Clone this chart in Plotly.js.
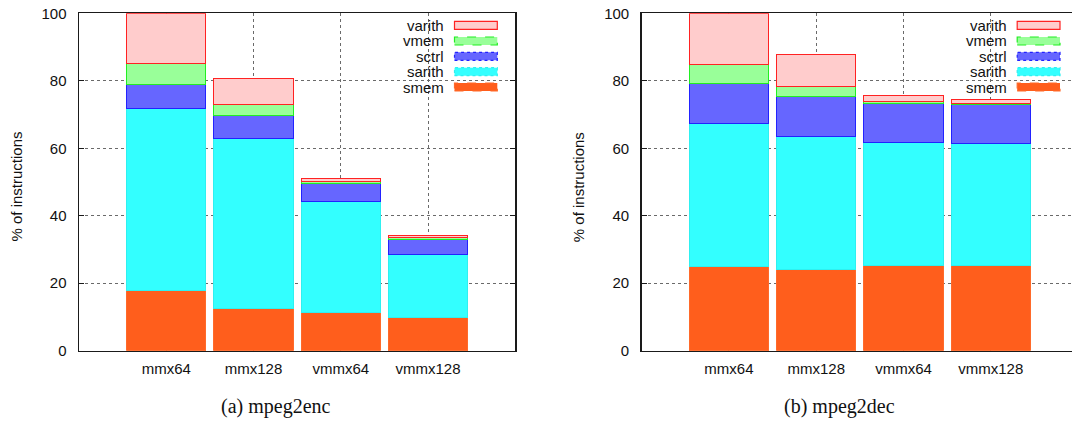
<!DOCTYPE html>
<html>
<head>
<meta charset="utf-8">
<script src="https://cdn.plot.ly/plotly-3.0.1.min.js"></script>
<style>
html, body { margin: 0; padding: 0; overflow: hidden; background: #fff; }
#chart { width: 1090px; height: 421px; }
</style>
</head>
<body>
<div id="chart"></div>
<script>
// ---- data ----
const categories = ['mmx64', 'mmx128', 'vmmx64', 'vmmx128'];
const seriesNames = ['smem', 'sarith', 'sctrl', 'vmem', 'varith'];

// (a) mpeg2enc
const enc_smem   = [17.7, 12.6, 11.2, 9.8];
const enc_sarith = [54.0, 50.3, 33.0, 18.8];
const enc_sctrl  = [7.1, 6.9, 5.4, 4.4];
const enc_vmem   = [6.3, 3.3, 0.5, 0.6];
const enc_varith = [14.9, 7.6, 0.8, 0.6];

// (b) mpeg2dec
const dec_smem   = [25.1, 24.2, 25.3, 25.3];
const dec_sarith = [42.3, 39.4, 36.4, 36.1];
const dec_sctrl  = [11.7, 11.7, 11.6, 11.6];
const dec_vmem   = [5.6, 2.9, 0.6, 0.2];
const dec_varith = [15.3, 9.6, 1.6, 1.4];

const yTickVals = [0, 20, 40, 60, 80, 100];
const captions = ['(a) mpeg2enc', '(b) mpeg2dec'];
const yTitle = '% of instructions';

// ---- styling ----
const W = 1090, H = 421;
const fillColors = {smem: '#ff5e1c', sarith: '#33ffff', sctrl: '#6666ff', vmem: '#99ff99', varith: '#ffcccc'};
const lineColors = {smem: '#ff6a2a', sarith: '#2ef0f0', sctrl: '#2222ff', vmem: '#22ee22', varith: '#ff2222'};
const lineDash = {smem: 'dash', sarith: 'dot', sctrl: 'dot', vmem: 'dash', varith: 'solid'};
const sans = 'Liberation Sans, Arial, sans-serif';

const encData = {smem: enc_smem, sarith: enc_sarith, sctrl: enc_sctrl, vmem: enc_vmem, varith: enc_varith};
const decData = {smem: dec_smem, sarith: dec_sarith, sctrl: dec_sctrl, vmem: dec_vmem, varith: dec_varith};

const px = x => x / W;
const py = y => 1 - y / H;

const traces = [];
[[encData, 'x', 'y'], [decData, 'x2', 'y2']].forEach(([d, xa, ya]) => {
  seriesNames.forEach(name => {
    traces.push({
      type: 'bar', name: name, x: categories, y: d[name],
      xaxis: xa, yaxis: ya, showlegend: false, hoverinfo: 'skip',
      marker: {color: fillColors[name], line: {color: lineColors[name], width: 1}}
    });
  });
});

const plotLeft = [79, 641.7];
const plotWidth = 436.3;
const yDom = [py(350.7), py(13.3)];

function xAxis(i) {
  return {
    domain: [px(plotLeft[i]), px(plotLeft[i] + plotWidth)],
    anchor: i === 0 ? 'y' : 'y2',
    type: 'category', categoryorder: 'array', categoryarray: categories,
    range: [-1, 4], fixedrange: true,
    showline: true, mirror: true, linecolor: '#1a1a1a', linewidth: 1.5,
    ticks: '', showgrid: true, gridcolor: '#6a6a6a', griddash: 'dot', gridwidth: 1,
    zeroline: false,
    tickfont: {family: sans, size: 15, color: '#111'},
    ticklabelstandoff: 4
  };
}
function topAxis(i) {
  return {
    domain: [px(plotLeft[i]), px(plotLeft[i] + plotWidth)],
    anchor: i === 0 ? 'y' : 'y2',
    overlaying: i === 0 ? 'x' : 'x2',
    side: 'top', type: 'linear', range: [-1, 4],
    tickvals: [0, 1, 2, 3], ticks: 'inside', ticklen: 4, tickcolor: '#1a1a1a', tickwidth: 1,
    showticklabels: false, showgrid: false, showline: false, zeroline: false,
    layer: 'below traces', fixedrange: true
  };
}
function yAxis(i) {
  return {
    domain: yDom,
    anchor: i === 0 ? 'x' : 'x2',
    range: [0, 100], tickvals: yTickVals, fixedrange: true,
    showline: true, mirror: 'allticks', linecolor: '#1a1a1a', linewidth: 1.5,
    ticks: 'inside', ticklen: 5, tickcolor: '#1a1a1a', tickwidth: 1,
    showgrid: true, gridcolor: '#6a6a6a', griddash: 'dot', gridwidth: 1,
    zeroline: false,
    tickfont: {family: sans, size: 15, color: '#111'},
    ticklabelstandoff: 8
  };
}

const shapes = [];
const annotations = [];
const legendOrder = ['varith', 'vmem', 'sctrl', 'sarith', 'smem'];
const legendRows = [25.3, 41.0, 56.3, 71.7, 87.0];
[0, 1].forEach(i => {
  const off = plotLeft[i] - plotLeft[0];
  legendOrder.forEach((name, k) => {
    const cy = legendRows[k];
    shapes.push({
      type: 'rect', xref: 'paper', yref: 'paper',
      x0: px(454.5 + off), x1: px(497.3 + off), y0: py(cy + 4), y1: py(cy - 4),
      fillcolor: fillColors[name],
      line: {color: lineColors[name], width: 1.2, dash: lineDash[name]}
    });
    annotations.push({
      xref: 'paper', yref: 'paper', x: px(446 + off), y: py(cy),
      xanchor: 'right', yanchor: 'middle', showarrow: false,
      text: name, font: {family: sans, size: 15, color: '#111'}
    });
  });
  annotations.push({
    xref: 'paper', yref: 'paper', x: px(16.5 + off), y: py(187),
    xanchor: 'center', yanchor: 'middle', showarrow: false, textangle: -90,
    text: yTitle, font: {family: sans, size: 15, color: '#111'}
  });
  annotations.push({
    xref: 'paper', yref: 'paper', x: px(276.3 + off), y: py(406),
    xanchor: 'center', yanchor: 'middle', showarrow: false,
    text: captions[i], font: {family: 'Liberation Serif, Times New Roman, serif', size: 20, color: '#111'}
  });
});

const layout = {
  width: W, height: H,
  margin: {l: 0, r: 0, t: 0, b: 0, pad: 0},
  paper_bgcolor: '#ffffff', plot_bgcolor: '#ffffff',
  barmode: 'stack', bargap: 0.09,
  showlegend: false,
  xaxis: xAxis(0), xaxis2: xAxis(1),
  xaxis3: topAxis(0), xaxis4: topAxis(1),
  yaxis: yAxis(0), yaxis2: yAxis(1),
  shapes: shapes, annotations: annotations
};

Plotly.newPlot('chart', traces, layout, {displayModeBar: false, staticPlot: true});
</script>
</body>
</html>
